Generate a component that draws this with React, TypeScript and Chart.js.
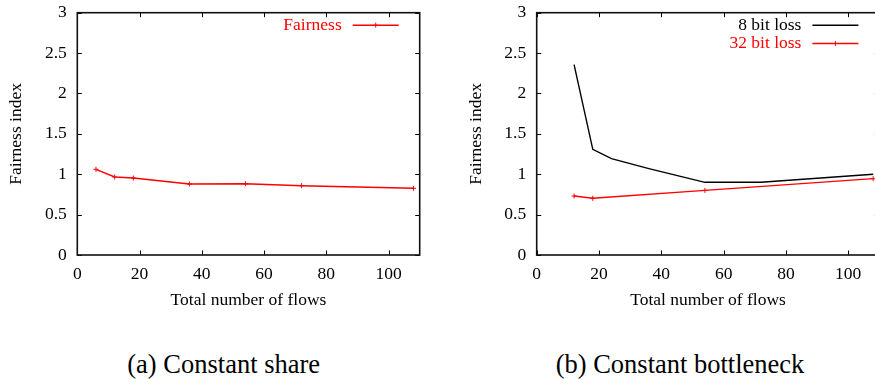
import React, { useEffect, useRef } from "react";
import { Chart, registerables } from "chart.js";

Chart.register(...registerables);

// ---- data ----
const fairnessFlows = [6, 12, 18, 36, 54, 72, 108];
const fairnessValues = [1.061, 0.966, 0.953, 0.879, 0.883, 0.858, 0.826];

const loss8Flows = [12, 18, 24, 36, 54, 72, 108];
const loss8Values = [2.356, 1.308, 1.193, 1.07, 0.9, 0.9, 0.999];

const loss32Flows = [12, 18, 54, 108];
const loss32Values = [0.73, 0.702, 0.8, 0.945];

const xTickStep = 20;
const yTickStep = 0.5;
const xMax = 110;
const yMax = 3;

const xTitle = "Total number of flows";
const yTitle = "Fairness index";
const captionA = "(a) Constant share";
const captionB = "(b) Constant bottleneck";

const FONT = "'Liberation Serif', 'Times New Roman', serif";
const FS = 17.5;

const toPoints = (xs: number[], ys: number[]) => xs.map((x, i) => ({ x, y: ys[i] }));

const gnuplotPlugin = {
  id: "gnuplot",
  afterDatasetsDraw(chart: any) {
    const { ctx, chartArea } = chart;
    const { left, right, top, bottom } = chartArea;
    const xs = chart.scales.x;
    const ys = chart.scales.y;
    ctx.save();
    ctx.strokeStyle = "#000";
    ctx.lineWidth = 1;
    const tl = 4.5;
    ctx.beginPath();
    xs.ticks.forEach((t: any) => {
      const px = Math.round(xs.getPixelForValue(t.value)) + 0.5;
      ctx.moveTo(px, bottom);
      ctx.lineTo(px, bottom - tl);
      ctx.moveTo(px, top);
      ctx.lineTo(px, top + tl);
    });
    ys.ticks.forEach((t: any) => {
      const py = Math.round(ys.getPixelForValue(t.value)) + 0.5;
      ctx.moveTo(left, py);
      ctx.lineTo(left + tl, py);
      ctx.moveTo(right, py);
      ctx.lineTo(right - tl, py);
    });
    ctx.stroke();
    ctx.lineWidth = 1.6;
    ctx.strokeStyle = "#111";
    ctx.strokeRect(left, top, right - left, bottom - top);

    // legend (gnuplot style, top right inside)
    ctx.font = `${FS}px ${FONT}`;
    ctx.textAlign = "right";
    ctx.textBaseline = "middle";
    chart.data.datasets.forEach((ds: any, i: number) => {
      const y = top + 12.5 + i * 18.3;
      const lineEnd = right - 21;
      const lineStart = lineEnd - 46;
      ctx.fillStyle = ds.borderColor;
      ctx.fillText(ds.label, lineStart - 11, y);
      ctx.strokeStyle = ds.borderColor;
      ctx.lineWidth = ds.borderWidth;
      ctx.beginPath();
      ctx.moveTo(lineStart, y);
      ctx.lineTo(lineEnd, y);
      ctx.stroke();
      if (ds.pointRadius > 0) {
        const cx = (lineStart + lineEnd) / 2;
        const r = ds.pointRadius;
        ctx.lineWidth = 1;
        ctx.beginPath();
        ctx.moveTo(cx - r, y);
        ctx.lineTo(cx + r, y);
        ctx.moveTo(cx, y - r);
        ctx.lineTo(cx, y + r);
        ctx.stroke();
      }
    });
    ctx.restore();
  },
};

type PanelProps = {
  datasets: any[];
  width: number;
  height: number;
  yAxisWidth: number;
  rightPad: number;
  yTitlePad: number;
};

function Panel({ datasets, width, height, yAxisWidth, rightPad, yTitlePad }: PanelProps) {
  const ref = useRef<HTMLCanvasElement | null>(null);
  useEffect(() => {
    if (!ref.current) return;
    const font = { family: FONT, size: FS };
    const chart = new Chart(ref.current, {
      type: "line",
      data: { datasets },
      options: {
        animation: false,
        responsive: false,
        devicePixelRatio: 1,
        layout: { padding: { top: 12.7, right: rightPad, left: 0, bottom: 0 } },
        plugins: { legend: { display: false }, tooltip: { enabled: false } },
        scales: {
          x: {
            type: "linear",
            min: 0,
            max: xMax,
            grid: { display: false, drawTicks: false },
            border: { display: false },
            ticks: {
              stepSize: xTickStep,
              includeBounds: false,
              font,
              color: "#000",
              padding: 9,
              maxRotation: 0,
              callback: (v: any) => String(v),
            },
            afterBuildTicks: (s: any) => {
              s.ticks = s.ticks.filter((t: any) => t.value % xTickStep === 0);
            },
            afterFit: (s: any) => {
              s.height = height - 255;
              s.paddingLeft = 0;
              s.paddingRight = 0;
            },
            title: { display: true, text: xTitle, font, color: "#000", padding: { top: 0, bottom: 9 } },
          },
          y: {
            type: "linear",
            min: 0,
            max: yMax,
            grid: { display: false, drawTicks: false },
            border: { display: false },
            ticks: { stepSize: yTickStep, font, color: "#000", padding: 10.5, callback: (v: any) => String(v) },
            afterFit: (s: any) => {
              s.width = yAxisWidth;
              s.paddingTop = 0;
              s.paddingBottom = 0;
            },
            title: { display: true, text: yTitle, font, color: "#000", padding: { top: yTitlePad, bottom: 0 } },
          },
        },
      },
      plugins: [gnuplotPlugin],
    } as any);
    return () => chart.destroy();
  }, []);
  return <canvas ref={ref} width={width} height={height} style={{ width, height, display: "block" }} />;
}

const red = "rgb(255,0,0)";

export default function App() {
  const dsA = [
    {
      label: "Fairness",
      data: toPoints(fairnessFlows, fairnessValues),
      borderColor: red,
      backgroundColor: red,
      borderWidth: 1.4,
      pointStyle: "cross",
      pointRadius: 2.5,
      pointBorderWidth: 1,
      tension: 0,
    },
  ];
  const dsB = [
    {
      label: "8 bit loss",
      data: toPoints(loss8Flows, loss8Values),
      borderColor: "#000",
      backgroundColor: "#000",
      borderWidth: 1.4,
      pointRadius: 0,
      tension: 0,
    },
    {
      label: "32 bit loss",
      data: toPoints(loss32Flows, loss32Values),
      borderColor: red,
      backgroundColor: red,
      borderWidth: 1.4,
      pointStyle: "cross",
      pointRadius: 2.5,
      pointBorderWidth: 1,
      tension: 0,
    },
  ];
  const capStyle: React.CSSProperties = {
    position: "absolute",
    top: 349,
    height: 30,
    lineHeight: "30px",
    fontFamily: FONT,
    fontSize: 26.5,
    textAlign: "center",
    color: "#000",
    whiteSpace: "nowrap",
  };
  return (
    <div
      style={{
        position: "fixed",
        left: 0,
        top: 0,
        width: 875,
        height: 379,
        overflow: "hidden",
        background: "#fff",
      }}
    >
      <div style={{ position: "absolute", left: 0, top: 0 }}>
        <Panel datasets={dsA} width={440} height={320} yAxisWidth={77.3} rightPad={20.3} yTitlePad={5.5} />
      </div>
      <div style={{ position: "absolute", left: 440, top: 0 }}>
        <Panel datasets={dsB} width={450} height={320} yAxisWidth={96.7} rightPad={10.6} yTitlePad={25.5} />
      </div>
      <div style={{ ...capStyle, left: 23.7, width: 400 }}>{captionA}</div>
      <div style={{ ...capStyle, left: 480, width: 400 }}>{captionB}</div>
    </div>
  );
}
